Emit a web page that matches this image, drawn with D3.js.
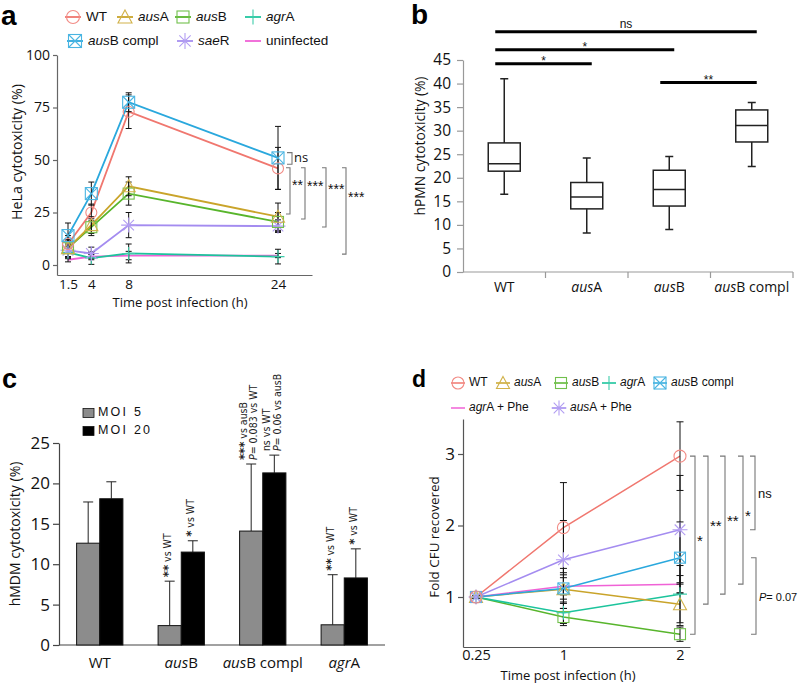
<!DOCTYPE html>
<html><head><meta charset="utf-8">
<script src="https://cdn.jsdelivr.net/npm/d3@7"></script>
<style>body{margin:0;background:#fff} svg{display:block}</style>
</head><body><svg id="fig" width="800" height="687"></svg>
<script>
// ---------------- DATA ----------------
// Panel a: HeLa cytotoxicity (%)
const helaTimes = [1.5, 4, 8, 24];
const helaTickLabels = ["1.5", "4", "8", "24"];
const helaYTicks = [0, 25, 50, 75, 100];
const helaWT = [10, 25, 73, 46];
const helaAusA = [8, 19, 37.5, 23];
const helaAusB = [8, 18, 34, 20.5];
const helaAgrA = [6, 3.3, 5.5, 4];
const helaAusBcompl = [14, 34, 77.5, 51];
const helaSaeR = [7, 5.5, 19, 18.5];
const helaUninf = [2.5, 4, 4.5, 4.5];
const helaWTErr = [4, 4, 8, 10];
const helaAusAErr = [4, 4, 4.5, 6.5];
const helaAusBErr = [4, 4, 5.5, 4.5];
const helaAgrAErr = [3, 3, 4.5, 3.5];
const helaAusBcomplErr = [6, 5.5, 4.5, 15];
const helaSaeRErr = [3, 3, 6, 3];
const helaUninfErr = [1, 1, 2, 1];
const helaSigLabels = ["ns", "**", "***", "***", "***"];
const helaSigTop = [53.5, 46.3, 46.3, 46.3, 46.3];
const helaSigBottom = [48, 24.3, 21.9, 18.1, 5.2];

// Panel b: hPMN cytotoxicity (%) box plots
const pmnCats = ["WT", "ausA", "ausB", "ausB compl"];
const pmnYTicks = [0, 5, 10, 15, 20, 25, 30, 35, 40, 45];
const pmnMin = [16.5, 8.3, 9, 22.4];
const pmnQ1 = [21.4, 13.4, 14, 27.6];
const pmnMedian = [23, 15.9, 17.5, 31.1];
const pmnQ3 = [27.4, 19, 21.6, 34.4];
const pmnMax = [41, 24.2, 24.5, 36];
const pmnSigFrom = ["WT", "WT", "WT", "ausB"];
const pmnSigTo = ["ausB compl", "ausB", "ausA", "ausB compl"];
const pmnSigLevel = [51, 47.2, 44.2, 40.2];
const pmnSigLabels = ["ns", "*", "*", "**"];

// Panel c: hMDM cytotoxicity (%) bars
const mdmCats = ["WT", "ausB", "ausB compl", "agrA"];
const mdmYTicks = [0, 5, 10, 15, 20, 25];
const mdmSeries = ["MOI 5", "MOI 20"];
const mdmMoi5 = [12.6, 2.4, 14.1, 2.5];
const mdmMoi5Err = [5.1, 5.5, 8.3, 6.2];
const mdmMoi20 = [18.1, 11.5, 21.3, 8.3];
const mdmMoi20Err = [2.1, 1.4, 2.2, 3.6];
const mdmMoi5Notes = [[], ["** vs WT"], ["*** vs ausB", "P= 0.083 vs WT"], ["** vs WT"]];
const mdmMoi20Notes = [[], ["* vs WT"], ["ns vs WT", "P= 0.06 vs ausB"], ["* vs WT"]];

// Panel d: Fold CFU recovered
const cfuTimes = [0.25, 1, 2];
const cfuTickLabels = ["0.25", "1", "2"];
const cfuYTicks = [1, 2, 3];
const cfuWT = [1, 1.97, 2.97];
const cfuAusA = [1, 1.11, 0.9];
const cfuAusB = [1, 0.72, 0.48];
const cfuAgrA = [1, 0.78, 1.04];
const cfuAusBcompl = [1, 1.12, 1.55];
const cfuAgrAPhe = [1, 1.15, 1.18];
const cfuAusAPhe = [1, 1.52, 1.94];
const cfuWTErr = [0.02, 0.63, 0.48];
const cfuAusAErr = [0.02, 0.2, 0.3];
const cfuAusBErr = [0.02, 0.12, 0.1];
const cfuAgrAErr = [0.02, 0.15, 0.4];
const cfuAusBcomplErr = [0.02, 0.28, 0.5];
const cfuAgrAPheErr = [0.02, 0.12, 0.12];
const cfuAusAPheErr = [0.02, 0.55, 0.76];
const cfuSigLabels = ["*", "**", "**", "*", "ns", "P= 0.07"];
const cfuSigTop = [cfuWT[2], cfuWT[2], cfuWT[2], cfuWT[2], cfuWT[2], cfuAusBcompl[2]];
const cfuSigBottom = [cfuAusB[2], cfuAusA[2], cfuAgrA[2], cfuAgrAPhe[2], cfuAusAPhe[2], cfuAusB[2]];

// ---------------- STYLE ----------------
const FONT = "'Open Sans', sans-serif";
const LEG = "'Liberation Sans', Arial, sans-serif";
const NARROW = "'Liberation Sans Narrow','DejaVu Sans Condensed',sans-serif";
const C = {WT:"#f0776f", ausA:"#c9a42a", ausB:"#58b52c", agrA:"#1cc49c", compl:"#2aa8dd", saeR:"#a48cf0", uninf:"#f062d6"};
const svg = d3.select("#fig");

function geneText(sel, label) {
  const m = label.match(/^([a-z]{3})([A-Z])(.*)$/);
  if (m) {
    sel.append("tspan").attr("font-style", "italic").text(m[1]);
    sel.append("tspan").text(m[2] + m[3]);
  } else sel.text(label);
}
function drawMarker(g, type, color, s) {
  const h = s / 2;
  if (type === "circle") g.append("circle").attr("r", h);
  else if (type === "triangle") g.append("path").attr("d", `M0,${-h}L${h},${h * 0.85}L${-h},${h * 0.85}Z`);
  else if (type === "square") g.append("rect").attr("x", -h).attr("y", -h).attr("width", s).attr("height", s);
  else if (type === "plus") g.append("path").attr("d", `M${-h},0H${h}M0,${-h}V${h}`);
  else if (type === "squareX") {
    g.append("rect").attr("x", -h).attr("y", -h).attr("width", s).attr("height", s);
    g.append("path").attr("d", `M${-h},${-h}L${h},${h}M${h},${-h}L${-h},${h}`);
  } else if (type === "asterisk") {
    const d = h * 0.707;
    g.append("path").attr("d", `M${-h},0H${h}M0,${-h}V${h}M${-d},${-d}L${d},${d}M${d},${-d}L${-d},${d}`);
  }
  g.selectAll("*").attr("stroke", d3.interpolateRgb(color, "#fff")(0.15)).attr("fill", "none").attr("stroke-width", 1.1);
}
function styleAxis(g, color, size) {
  g.selectAll("path.domain").attr("stroke", color).attr("stroke-width", 1.2);
  g.selectAll(".tick line").attr("stroke", color).attr("stroke-width", 1.2);
  g.selectAll(".tick text").attr("fill", "#111").attr("font-family", FONT).attr("font-size", size);
}
function panelLabel(txt, x, y, size) {
  svg.append("text").attr("x", x).attr("y", y).attr("font-family", LEG).attr("font-weight", "bold")
    .attr("font-size", size).attr("fill", "#000").text(txt);
}
function axisTitle(txt, x, y, size, rot) {
  svg.append("text").attr("transform", `translate(${x},${y})` + (rot ? " rotate(-90)" : ""))
    .attr("text-anchor", "middle").attr("dominant-baseline", "middle")
    .attr("font-family", FONT).attr("font-size", size).attr("fill", "#111").text(txt);
}
function bracket(g, x, y1, y2, tick, color) {
  g.append("path").attr("d", `M${x - tick},${y1}H${x}V${y2}H${x - tick}`)
    .attr("fill", "none").attr("stroke", color).attr("stroke-width", 1.1);
}
function errBars(g, xs, vals, errs, x, y, cap) {
  vals.forEach((v, i) => {
    const px = x(xs[i]), t = y(v + errs[i]), b = y(v - errs[i]);
    g.append("path").attr("d", `M${px},${t}V${b}M${px - cap},${t}H${px + cap}M${px - cap},${b}H${px + cap}`)
      .attr("stroke", "#111").attr("stroke-width", 1).attr("fill", "none");
  });
}

// ---------------- PANEL A ----------------
(function () {
  const g = svg.append("g");
  const x = d3.scaleLinear().domain([1.5, 24]).range([68, 278]);
  const y = d3.scaleLinear().domain([0, 100]).range([265, 55]);
  const yAx = y.copy().domain([y.invert(275), 100]).range([275, 55]);
  const xAx = x.copy().domain([x.invert(57), x.invert(312)]).range([57, 312]);
  const ya = g.append("g").attr("transform", "translate(57,0)")
    .call(d3.axisLeft(yAx).tickValues(helaYTicks).tickSize(4).tickSizeOuter(0).tickPadding(3));
  styleAxis(ya, "#666", 14);
  const xa = g.append("g").attr("transform", "translate(0,275)")
    .call(d3.axisBottom(xAx).tickValues(helaTimes).tickFormat((d, i) => helaTickLabels[i]).tickSize(0).tickPadding(4).tickSizeOuter(0));
  styleAxis(xa, "#666", 13.5);
  axisTitle("HeLa cytotoxicity (%)", 18, 152, 14.2, true);
  axisTitle("Time post infection (h)", 180, 304, 13, false);
  panelLabel("a", 1, 25, 28);

  const series = [
    {name:"uninfected", v:helaUninf, e:helaUninfErr, c:C.uninf, m:null},
    {name:"agrA", v:helaAgrA, e:helaAgrAErr, c:C.agrA, m:"plus"},
    {name:"saeR", v:helaSaeR, e:helaSaeRErr, c:C.saeR, m:"asterisk"},
    {name:"ausB", v:helaAusB, e:helaAusBErr, c:C.ausB, m:"square"},
    {name:"ausA", v:helaAusA, e:helaAusAErr, c:C.ausA, m:"triangle"},
    {name:"WT", v:helaWT, e:helaWTErr, c:C.WT, m:"circle"},
    {name:"ausB compl", v:helaAusBcompl, e:helaAusBcomplErr, c:C.compl, m:"squareX"}
  ];
  const line = d3.line().x((d, i) => x(helaTimes[i])).y(d => y(d));
  series.forEach(s => g.append("path").attr("d", line(s.v)).attr("fill", "none").attr("stroke", s.c).attr("stroke-width", 1.8));
  series.forEach(s => errBars(g, helaTimes, s.v, s.e, x, y, 3));
  const msize = {circle:11, triangle:13, square:11, plus:13, squareX:12, asterisk:15};
  series.forEach(s => {
    if (!s.m) return;
    s.v.forEach((v, i) => drawMarker(g.append("g").attr("transform", `translate(${x(helaTimes[i])},${y(v)})`), s.m, s.c, msize[s.m]));
  });
  const bx = [292, 290, 305, 326, 346];
  helaSigLabels.forEach((lab, i) => {
    const t = y(helaSigTop[i]), b = y(helaSigBottom[i]);
    bracket(g, bx[i], t, b, i === 0 ? 5 : 4, "#777");
    const isNs = lab === "ns";
    g.append("text").attr("x", bx[i] + 2).attr("y", isNs ? (t + b) / 2 + 4 : t + (b - t) * 0.3 + 8)
      .attr("font-family", isNs ? FONT : LEG).attr("font-size", isNs ? 13 : 14).attr("fill", "#111").text(lab);
  });
  const leg = [
    {n:"WT", m:"circle", c:C.WT, x:73, y:17}, {n:"ausA", m:"triangle", c:C.ausA, x:125, y:17},
    {n:"ausB", m:"square", c:C.ausB, x:183, y:17}, {n:"agrA", m:"plus", c:C.agrA, x:253, y:17},
    {n:"ausB compl", m:"squareX", c:C.compl, x:75, y:41}, {n:"saeR", m:"asterisk", c:C.saeR, x:185, y:41},
    {n:"uninfected", m:null, c:C.uninf, x:253, y:41}
  ];
  leg.forEach(l => {
    const lg = g.append("g").attr("transform", `translate(${l.x},${l.y})`);
    lg.append("path").attr("d", "M-8,0H8").attr("stroke", l.c).attr("stroke-width", 1.8);
    if (l.m) drawMarker(lg.append("g"), l.m, l.c, {circle:13, triangle:14, square:12, plus:15, squareX:13, asterisk:16}[l.m]);
    const t = lg.append("text").attr("x", 13).attr("y", 0).attr("dominant-baseline", "middle")
      .attr("font-family", LEG).attr("font-size", 13.5).attr("fill", "#111");
    geneText(t, l.n);
  });
})();

// ---------------- PANEL B ----------------
(function () {
  const g = svg.append("g");
  const y = d3.scaleLinear().domain([0, 45]).range([272, 60]);
  const x = d3.scaleBand().domain(pmnCats).range([463, 793]);
  const ya = g.append("g").attr("transform", "translate(463,0)")
    .call(d3.axisLeft(y).tickValues(pmnYTicks).tickSize(6).tickSizeOuter(0).tickPadding(6));
  styleAxis(ya, "#999", 15.5);
  const xa = g.append("g").attr("transform", "translate(0,272)");
  xa.append("path").attr("d", `M${x.range()[0]},0H${x.range()[1]}`).attr("stroke", "#999").attr("stroke-width", 1.2);
  pmnCats.forEach(c => {
    xa.append("path").attr("d", `M${x(c) + x.bandwidth()},0V6`).attr("stroke", "#999").attr("stroke-width", 1.2);
    const t = xa.append("text").attr("x", x(c) + x.bandwidth() / 2).attr("y", 20).attr("text-anchor", "middle")
      .attr("font-family", FONT).attr("font-size", 14).attr("fill", "#111");
    geneText(t, c);
  });
  axisTitle("hPMN cytotoxicity (%)", 421, 146, 13.8, true);
  panelLabel("b", 411, 24, 28);
  const bw = 32;
  pmnCats.forEach((c, i) => {
    const cx = x(c) + x.bandwidth() / 2;
    const st = sel => sel.attr("stroke", "#222").attr("stroke-width", 1.5).attr("fill", "none");
    st(g.append("path").attr("d", `M${cx},${y(pmnMax[i])}V${y(pmnQ3[i])}M${cx},${y(pmnQ1[i])}V${y(pmnMin[i])}` +
      `M${cx - 4},${y(pmnMax[i])}H${cx + 4}M${cx - 4},${y(pmnMin[i])}H${cx + 4}`));
    st(g.append("rect").attr("x", cx - bw / 2).attr("width", bw).attr("y", y(pmnQ3[i])).attr("height", y(pmnQ1[i]) - y(pmnQ3[i])));
    st(g.append("path").attr("d", `M${cx - bw / 2},${y(pmnMedian[i])}H${cx + bw / 2}`));
  });
  pmnSigLabels.forEach((lab, i) => {
    const x1 = x(pmnSigFrom[i]) + x.bandwidth() / 2 - 9, x2 = x(pmnSigTo[i]) + x.bandwidth() / 2 + 5;
    const yy = y(pmnSigLevel[i]);
    g.append("path").attr("d", `M${x1},${yy}H${x2}`).attr("stroke", "#000").attr("stroke-width", 3);
    g.append("text").attr("x", (x1 + x2) / 2).attr("y", lab === "ns" ? yy - 4 : yy + 1).attr("text-anchor", "middle")
      .attr("font-family", LEG).attr("font-size", 12).attr("fill", "#111").text(lab);
  });
})();

// ---------------- PANEL C ----------------
(function () {
  const g = svg.append("g");
  const y = d3.scaleLinear().domain([0, 25]).range([645, 443]);
  const x = d3.scaleBand().domain(mdmCats).range([59, 385]).paddingInner(0.432).paddingOuter(0.216);
  const xs = d3.scaleBand().domain(mdmSeries).range([0, x.bandwidth()]);
  const ya = g.append("g").attr("transform", "translate(59,0)")
    .call(d3.axisLeft(y).tickValues(mdmYTicks).tickSize(6).tickSizeOuter(0).tickPadding(3));
  styleAxis(ya, "#444", 17);
  const xa = g.append("g").attr("transform", "translate(0,645)");
  xa.append("path").attr("d", `M59,0H385`).attr("stroke", "#444").attr("stroke-width", 1.2);
  mdmCats.forEach(c => {
    const t = xa.append("text").attr("x", x(c) + x.bandwidth() / 2).attr("y", 23).attr("text-anchor", "middle")
      .attr("font-family", FONT).attr("font-size", 15).attr("fill", "#111");
    geneText(t, c);
  });
  axisTitle("hMDM cytotoxicity (%)", 16, 534, 14, true);
  panelLabel("c", 2, 388, 27);
  const cols = ["#8c8c8c", "#000"];
  const vals = [mdmMoi5, mdmMoi20], errs = [mdmMoi5Err, mdmMoi20Err], notes = [mdmMoi5Notes, mdmMoi20Notes];
  mdmSeries.forEach((s, si) => {
    mdmCats.forEach((c, i) => {
      const bx = x(c) + xs(s), v = vals[si][i], e = errs[si][i];
      const cx = bx + xs.bandwidth() / 2;
      g.append("path").attr("d", `M${cx},${y(v)}V${y(v + e)}M${cx - 5},${y(v + e)}H${cx + 5}`)
        .attr("stroke", "#222").attr("stroke-width", 1).attr("fill", "none");
      g.append("rect").attr("x", bx).attr("width", xs.bandwidth()).attr("y", y(v)).attr("height", y(0) - y(v))
        .attr("fill", cols[si]).attr("stroke", "#111").attr("stroke-width", 1);
      const ns = notes[si][i];
      ns.forEach((txt, li) => {
        const tx = cx - 2 + (li - (ns.length - 1) / 2) * 10.5;
        const t = g.append("text").attr("transform", `translate(${tx},${y(v + e) - 4}) rotate(-90)`)
          .attr("dominant-baseline", "middle").attr("font-family", NARROW)
          .attr("font-size", 10.5).attr("fill", "#222");
        const m = txt.match(/^(\*+)(.*)$/);
        if (m) { t.append("tspan").attr("font-size", 13).attr("font-weight", "bold").text(m[1]); t.append("tspan").text(m[2]); }
        else if (txt.startsWith("P")) { t.append("tspan").attr("font-style", "italic").text("P"); t.append("tspan").text(txt.slice(1)); }
        else t.text(txt);
      });
    });
  });
  mdmSeries.forEach((s, si) => {
    const ly = 413 + si * 18;
    g.append("rect").attr("x", 83).attr("y", ly - 4.5).attr("width", 11).attr("height", 9)
      .attr("fill", cols[si]).attr("stroke", "#111").attr("stroke-width", 0.8);
    g.append("text").attr("x", 98).attr("y", ly).attr("dominant-baseline", "middle")
      .attr("font-family", LEG).attr("font-size", 12.5).attr("letter-spacing", 2.2).attr("fill", "#111").text(s);
  });
})();

// ---------------- PANEL D ----------------
(function () {
  const g = svg.append("g");
  const x = d3.scaleLinear().domain([0.25, 2]).range([476, 680]);
  const y = d3.scaleLinear().domain([1, 3]).range([597, 454]);
  const yAx = y.copy().domain([y.invert(647), y.invert(419)]).range([647, 419]);
  const xAx = x.copy().domain([x.invert(463), x.invert(690)]).range([463, 690]);
  const ya = g.append("g").attr("transform", "translate(463,0)")
    .call(d3.axisLeft(yAx).tickValues(cfuYTicks).tickFormat(d3.format("d")).tickSize(5).tickSizeOuter(0).tickPadding(3));
  styleAxis(ya, "#555", 17);
  const xa = g.append("g").attr("transform", "translate(0,647)")
    .call(d3.axisBottom(xAx).tickValues(cfuTimes).tickFormat((d, i) => cfuTickLabels[i]).tickSize(0).tickPadding(3).tickSizeOuter(0));
  styleAxis(xa, "#555", 14.5);
  axisTitle("Fold CFU recovered", 435, 537, 13.4, true);
  axisTitle("Time post infection (h)", 568, 677, 13, false);
  panelLabel("d", 412, 387, 23);
  const series = [
    {v:cfuAusB, e:cfuAusBErr, c:C.ausB, m:"square"},
    {v:cfuAgrA, e:cfuAgrAErr, c:C.agrA, m:"plus"},
    {v:cfuAusA, e:cfuAusAErr, c:C.ausA, m:"triangle"},
    {v:cfuAgrAPhe, e:cfuAgrAPheErr, c:C.uninf, m:null},
    {v:cfuAusBcompl, e:cfuAusBcomplErr, c:C.compl, m:"squareX"},
    {v:cfuAusAPhe, e:cfuAusAPheErr, c:C.saeR, m:"asterisk"},
    {v:cfuWT, e:cfuWTErr, c:C.WT, m:"circle"}
  ];
  const line = d3.line().x((d, i) => x(cfuTimes[i])).y(d => y(d));
  series.forEach(s => g.append("path").attr("d", line(s.v)).attr("fill", "none").attr("stroke", s.c).attr("stroke-width", 1.5));
  series.forEach(s => errBars(g, cfuTimes, s.v, s.e, x, y, 3.5));
  const msize = {circle:12, triangle:13, square:11, plus:14, squareX:11, asterisk:15};
  series.forEach(s => {
    if (!s.m) return;
    s.v.forEach((v, i) => drawMarker(g.append("g").attr("transform", `translate(${x(cfuTimes[i])},${y(v)})`), s.m, s.c, msize[s.m]));
  });
  const bx = [695, 708, 725, 743, 755, 756];
  cfuSigLabels.forEach((lab, i) => {
    const t = y(cfuSigTop[i]), b = y(cfuSigBottom[i]);
    bracket(g, bx[i], t, b, 5, "#777");
    const mid = (t + b) / 2;
    const isStar = lab.startsWith("*");
    const isP = lab.startsWith("P");
    const tx = g.append("text").attr("x", bx[i] + (isStar ? 2 : 3)).attr("y", isStar ? mid + 1 : mid + 5)
      .attr("font-family", LEG).attr("font-size", isStar ? 15 : (isP ? 11 : 13)).attr("fill", "#111");
    if (isP) { tx.append("tspan").attr("font-style", "italic").text("P"); tx.append("tspan").text(lab.slice(1)); }
    else tx.text(lab);
  });
  const leg = [
    {n:"WT", m:"circle", c:C.WT, x:458, y:383}, {n:"ausA", m:"triangle", c:C.ausA, x:503, y:383},
    {n:"ausB", m:"square", c:C.ausB, x:561, y:383}, {n:"agrA", m:"plus", c:C.agrA, x:609, y:383},
    {n:"ausB compl", m:"squareX", c:C.compl, x:660, y:383},
    {n:"agrA + Phe", m:null, c:C.uninf, x:458, y:408}, {n:"ausA + Phe", m:"asterisk", c:C.saeR, x:559, y:408}
  ];
  leg.forEach(l => {
    const lg = g.append("g").attr("transform", `translate(${l.x},${l.y})`);
    lg.append("path").attr("d", "M-7,0H7").attr("stroke", l.c).attr("stroke-width", 1.5);
    if (l.m) drawMarker(lg.append("g"), l.m, l.c, {circle:12, triangle:13, square:11, plus:14, squareX:12, asterisk:15}[l.m]);
    const t = lg.append("text").attr("x", 11).attr("y", 0).attr("dominant-baseline", "middle")
      .attr("font-family", LEG).attr("font-size", 12).attr("fill", "#111");
    geneText(t, l.n);
  });
})();
</script></body></html>
